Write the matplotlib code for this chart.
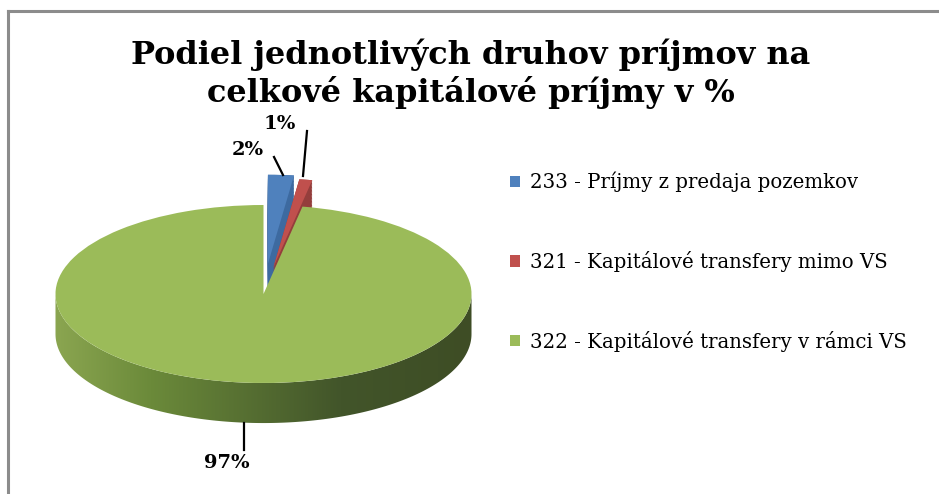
import numpy as np
import matplotlib.pyplot as plt
from matplotlib.lines import Line2D
from matplotlib.patches import Polygon

# ---------------------------------------
# Data
# ---------------------------------------

legend_labels = [
    "233 - Príjmy z predaja pozemkov",
    "321 - Kapitálové transfery mimo VS",
    "322 - Kapitálové transfery v rámci VS",
]
shares = [2, 1, 97]
pct_labels = ["2%", "1%", "97%"]
explode = [0.34, 0.3, 0]

top_colors = ["#4f81bd", "#c0504d", "#9bbb59"]
side_colors = ["#3d6aa0", "#943e3c", "none"]

title = "Podiel jednotlivých druhov príjmov na\ncelkové kapitálové príjmy v %"

# ---------------------------------------
# Figure
# ---------------------------------------

W, H = 939, 494
fig = plt.figure(figsize=(W / 100, H / 100), dpi=100)
serif = "DejaVu Serif"


def fx(px):
    return px / W


def fy(py):
    return 1 - py / H


# pie axes: 1 unit = 208 px across, 89 px down
ax = fig.add_axes([fx(13.9), fy(472), 499.2 / W, 356 / H])
depth = 0.45

# side of the exploded slices
for dy in np.linspace(-depth, 0, 30):
    ax.pie(shares, explode=explode, colors=side_colors, startangle=90,
           counterclock=False, center=(0, dy))

# top faces
wedges, _ = ax.pie(shares, explode=explode, colors=top_colors, startangle=90,
                   counterclock=False, center=(0, 0))
wedges[0].set_zorder(2)
wedges[1].set_zorder(2)
wedges[2].set_zorder(4)

# green side with horizontal shading
t = np.linspace(np.pi, 2 * np.pi, 200)
band = np.vstack([
    np.column_stack([np.cos(t), np.sin(t)]),
    np.column_stack([np.cos(t[::-1]), np.sin(t[::-1]) - depth]),
])
band_patch = Polygon(band, closed=True, facecolor="none", edgecolor="none")
ax.add_patch(band_patch)

stops = [0.0, 0.086, 0.273, 0.653, 0.913, 1.0]
stop_cols = np.array([
    [140, 167, 82], [138, 165, 80], [107, 138, 58],
    [66, 85, 42], [62, 77, 37], [62, 77, 37],
]) / 255
xs = np.linspace(0, 1, 400)
grad = np.stack([np.interp(xs, stops, stop_cols[:, i]) for i in range(3)], axis=-1)
img = ax.imshow(grad[np.newaxis, :, :], extent=(-1.2, 1.2, -1.6, 0.2),
                aspect="auto", zorder=3, interpolation="bilinear")
img.set_clip_path(band_patch)

ax.set_aspect("auto")
ax.set_xlim(-1.2, 1.2)
ax.set_ylim(-2, 2)
ax.axis("off")

# ---------------------------------------
# Data labels with leader lines
# ---------------------------------------

label_pos = [(248, 150), (280, 124), (227, 463)]
leader = [((274, 157), (283, 175)), ((307, 131), (303, 176)), ((244, 423), (244, 450))]

for txt, (lx, ly), ((x0, y0), (x1, y1)) in zip(pct_labels, label_pos, leader):
    fig.text(fx(lx), fy(ly), txt, ha="center", va="center",
             fontsize=14, fontweight="bold", family=serif)
    fig.add_artist(Line2D([fx(x0), fx(x1)], [fy(y0), fy(y1)],
                          color="black", lw=1.6))

# ---------------------------------------
# Title, legend, border
# ---------------------------------------

fig.text(fx(471), fy(74), title, ha="center", va="center", fontsize=23,
         fontweight="bold", family=serif, linespacing=1.2)

fig.legend(wedges, legend_labels, loc="upper left",
           bbox_to_anchor=(fx(502), fy(164)), frameon=False,
           prop={"family": serif, "size": 14.2},
           handlelength=0.52, handleheight=0.52, handletextpad=0.5,
           labelspacing=2.97, borderaxespad=0)

border = "#8c8c8c"
fig.add_artist(Line2D([fx(8), fx(8)], [fy(11), 0], color=border, lw=2.2))
fig.add_artist(Line2D([fx(8), 1], [fy(11), fy(11)], color=border, lw=2.2))

fig.savefig("out.png", dpi=100)
